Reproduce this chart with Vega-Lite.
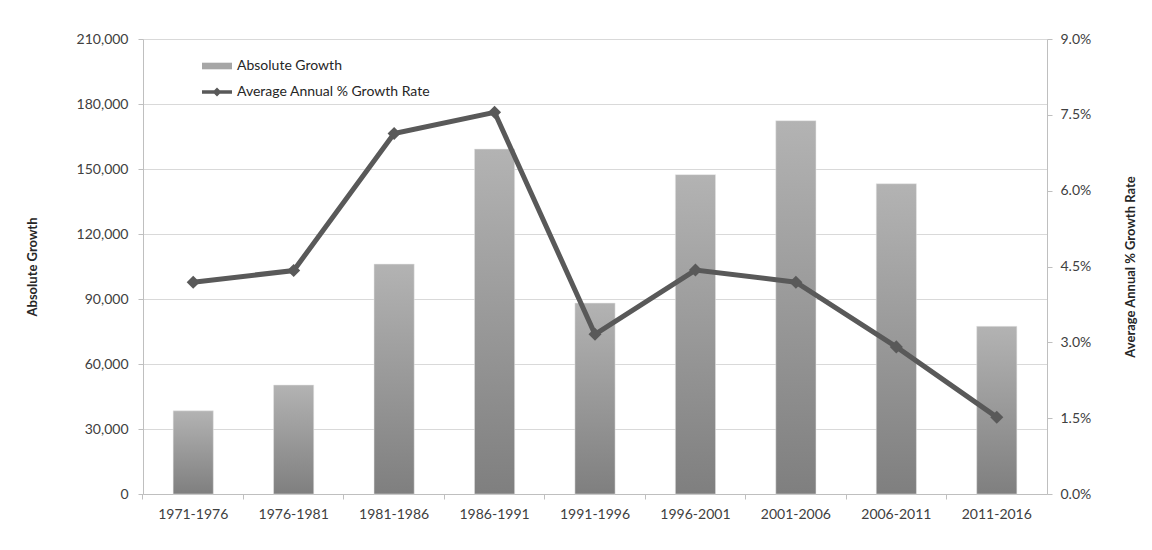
{
  "$schema": "https://vega.github.io/schema/vega-lite/v6.json",
  "width": 904,
  "height": 455,
  "padding": {"left": 26, "top": 32, "right": 5, "bottom": 5},
  "background": "white",
  "config": {
    "view": {"stroke": null},
    "font": "Lato",
    "axis": {
      "labelFont": "Lato",
      "labelFontSize": 14,
      "labelColor": "#404040",
      "titleFont": "Lato",
      "titleFontSize": 13,
      "titleFontWeight": "bold",
      "titleColor": "#262626",
      "domainColor": "#bfbfbf",
      "tickColor": "#bfbfbf",
      "gridColor": "#d9d9d9",
      "tickSize": 5
    }
  },
  "data": {
    "values": [
      {"period": "1971-1976", "abs": 38400, "rate": 0.0419},
      {"period": "1976-1981", "abs": 50300, "rate": 0.0442},
      {"period": "1981-1986", "abs": 106100, "rate": 0.0713},
      {"period": "1986-1991", "abs": 159200, "rate": 0.0755},
      {"period": "1991-1996", "abs": 88100, "rate": 0.0316},
      {"period": "1996-2001", "abs": 147400, "rate": 0.0443},
      {"period": "2001-2006", "abs": 172300, "rate": 0.0419},
      {"period": "2006-2011", "abs": 143200, "rate": 0.0291},
      {"period": "2011-2016", "abs": 77400, "rate": 0.0152}
    ]
  },
  "encoding": {
    "x": {
      "field": "period",
      "type": "ordinal",
      "sort": null,
      "scale": {"paddingInner": 0.6, "paddingOuter": 0.3},
      "axis": {
        "title": null,
        "labelAngle": 0,
        "bandPosition": -0.75,
        "labelPadding": 8,
        "grid": false
      }
    }
  },
  "layer": [
    {
      "mark": {
        "type": "bar",
        "stroke": "#e6e6e6",
        "strokeWidth": 0.5,
        "color": {
          "gradient": "linear",
          "x1": 0, "y1": 0, "x2": 0, "y2": 1,
          "stops": [
            {"offset": 0, "color": "#b3b3b3"},
            {"offset": 1, "color": "#7f7f7f"}
          ]
        }
      },
      "encoding": {
        "y": {
          "field": "abs",
          "type": "quantitative",
          "scale": {"domain": [0, 210000], "nice": false},
          "axis": {
            "title": "Absolute Growth",
            "values": [0, 30000, 60000, 90000, 120000, 150000, 180000, 210000],
            "format": ",d",
            "labelPadding": 10,
            "titlePadding": 37,
            "grid": true
          }
        }
      }
    },
    {
      "mark": {"type": "line", "strokeWidth": 5},
      "encoding": {
        "y": {
          "field": "rate",
          "type": "quantitative",
          "scale": {"domain": [0, 0.09], "nice": false},
          "axis": {
            "orient": "right",
            "title": "Average Annual % Growth Rate",
            "titleAngle": 270,
            "values": [0, 0.015, 0.03, 0.045, 0.06, 0.075, 0.09],
            "format": ".1%",
            "labelPadding": 8,
            "titlePadding": 47,
            "grid": false
          }
        },
        "stroke": {
          "datum": "Average Annual % Growth Rate",
          "type": "nominal",
          "scale": {
            "domain": ["Absolute Growth", "Average Annual % Growth Rate"],
            "range": ["#a6a6a6", "#595959"]
          },
          "legend": {
            "orient": "none",
            "legendX": 59,
            "legendY": 12,
            "title": null,
            "labelFont": "Lato",
            "labelFontSize": 14,
            "labelColor": "#262626",
            "labelLimit": 0,
            "symbolSize": 900,
            "labelOffset": 5,
            "rowPadding": 4,
            "encode": {
              "symbols": {
                "update": {
                  "shape": {"signal": "datum.value === 'Absolute Growth' ? 'M-1,-0.22H1V0.22H-1Z' : 'M-1,-0.12H1V0.12H-1Z M0,-0.3L0.3,0L0,0.3L-0.3,0Z'"},
                  "fill": {"signal": "datum.value === 'Absolute Growth' ? '#a6a6a6' : '#595959'"},
                  "stroke": {"value": "transparent"},
                  "strokeWidth": {"value": 0},
                  "size": {"value": 900}
                }
              }
            }
          }
        }
      }
    },
    {
      "mark": {"type": "point", "shape": "diamond", "filled": true, "size": 170, "color": "#595959", "opacity": 1},
      "encoding": {
        "y": {
          "field": "rate",
          "type": "quantitative",
          "scale": {"domain": [0, 0.09], "nice": false},
          "axis": null
        }
      }
    }
  ],
  "resolve": {"scale": {"y": "independent"}}
}
